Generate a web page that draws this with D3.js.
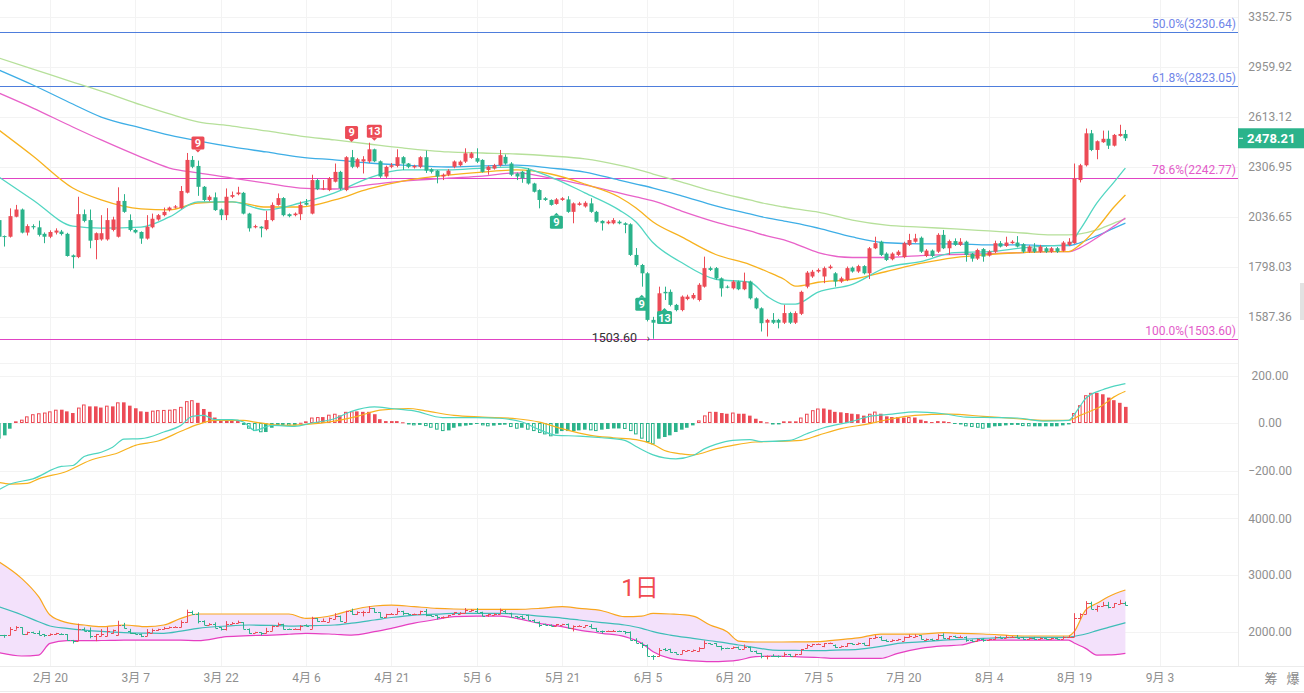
<!DOCTYPE html>
<html>
<head>
<meta charset="utf-8">
<script src="https://cdn.jsdelivr.net/npm/d3@7"></script>
<style>
html,body{margin:0;padding:0;background:#fff;overflow:hidden}
svg{display:block;font-family:Roboto,"Noto Sans CJK SC",sans-serif}
</style>
</head>
<body>
<svg id="chart" width="1304" height="693"></svg>
<script>
// first candle date, one candle per day
var startDay = "2025-02-11";

var open = [2021,1942,1939,2038,2075,1959,1991,1985,1953,1939,1959,1964,1953,1851,1843,2051,2021,1923,1926,1926,1972,1939,2120,2021,1972,1962,1930,1985,2024,2046,2072,2085,2082,2164,2348,2313,2196,2125,2139,2075,2046,2142,2156,2163,2054,1985,1988,1976,2021,2099,2135,2051,2046,2051,2110,2054,2233,2181,2178,2224,2279,2178,2364,2308,2339,2339,2411,2340,2253,2308,2313,2364,2327,2305,2308,2364,2294,2286,2253,2263,2308,2317,2338,2360,2358,2348,2290,2298,2317,2366,2327,2270,2280,2290,2214,2178,2134,2125,2104,2125,2128,2063,2099,2091,2107,2063,2017,2005,2005,2013,2005,2000,1853,1807,1770,1576,1568,1690,1690,1636,1615,1660,1663,1656,1712,1793,1793,1748,1712,1705,1734,1701,1734,1663,1622,1565,1576,1576,1565,1603,1565,1600,1712,1756,1778,1756,1793,1770,1734,1741,1795,1778,1802,1770,1884,1915,1859,1833,1853,1843,1900,1915,1934,1848,1873,1868,1948,1884,1918,1900,1915,1859,1836,1880,1850,1868,1908,1895,1908,1911,1903,1868,1884,1868,1884,1868,1884,1872,1900,1908,2233,2317,2509,2407,2454,2475,2433,2493,2505];
var high = [2030,1945,2081,2099,2080,2000,2000,2018,1960,1970,1980,1972,1958,1855,2142,2075,2075,1960,2046,2082,2038,2193,2156,2050,1978,1965,2046,2054,2052,2085,2090,2098,2200,2389,2371,2344,2200,2150,2165,2080,2187,2170,2196,2168,2058,1998,1990,2068,2112,2160,2140,2055,2060,2117,2130,2263,2240,2233,2250,2327,2285,2370,2407,2360,2370,2451,2415,2345,2315,2330,2411,2370,2330,2320,2370,2403,2300,2290,2270,2295,2345,2345,2417,2395,2417,2352,2315,2325,2407,2380,2335,2275,2285,2300,2218,2182,2140,2128,2135,2140,2145,2112,2115,2118,2134,2068,2020,2020,2031,2020,2010,2005,1885,1812,1775,1588,1712,1712,1700,1640,1675,1678,1685,1727,1845,1800,1798,1752,1718,1740,1738,1773,1738,1667,1626,1580,1603,1580,1636,1608,1610,1695,1780,1785,1792,1800,1808,1775,1755,1800,1800,1808,1806,1890,1939,1920,1865,1865,1875,1915,1953,1953,1940,1880,1878,1956,1972,1925,1931,1932,1920,1862,1882,1885,1875,1920,1918,1939,1922,1942,1908,1898,1908,1900,1890,1890,1890,1918,1932,2327,2325,2539,2530,2465,2526,2526,2505,2563,2530];
var low = [1935,1892,1935,2035,1955,1945,1975,1940,1908,1932,1950,1945,1845,1792,1838,2010,1884,1833,1920,1920,1965,1935,2058,1965,1955,1905,1925,1980,2018,2040,2065,2080,2078,2160,2300,2147,2118,2118,2068,2021,2021,2135,2150,2050,1964,1980,1936,1970,2015,2095,2040,2035,2040,2021,2095,2050,2178,2178,2172,2220,2178,2172,2300,2300,2270,2330,2335,2245,2245,2300,2305,2290,2300,2298,2300,2273,2270,2215,2233,2255,2300,2310,2330,2355,2330,2275,2263,2292,2310,2320,2255,2233,2218,2208,2165,2081,2120,2095,2100,2120,2058,2005,2095,2085,2058,2008,1969,2000,2000,2000,1956,1848,1800,1712,1570,1503.6,1560,1656,1630,1610,1610,1655,1658,1650,1708,1780,1742,1670,1705,1700,1697,1697,1658,1618,1531,1512,1560,1543,1560,1560,1560,1595,1705,1750,1772,1727,1788,1712,1728,1736,1773,1772,1765,1745,1880,1848,1825,1828,1848,1838,1895,1910,1862,1843,1843,1862,1880,1853,1895,1895,1822,1822,1830,1822,1845,1862,1888,1890,1905,1888,1862,1862,1862,1862,1862,1862,1862,1868,1895,1905,2220,2310,2400,2352,2450,2413,2428,2488,2462];
var close = [1939,1938,2041,2075,1959,1991,1985,1948,1939,1962,1969,1952,1848,1843,2051,2017,1920,1956,1956,2021,2024,2120,2063,1972,1960,1930,1988,2028,2046,2063,2085,2091,2173,2348,2308,2196,2125,2142,2072,2046,2142,2151,2165,2054,1980,1991,1980,2021,2099,2135,2046,2041,2054,2099,2100,2233,2183,2187,2242,2279,2187,2364,2308,2352,2352,2411,2340,2253,2308,2317,2364,2327,2308,2313,2364,2286,2280,2253,2263,2286,2339,2338,2387,2387,2338,2279,2309,2317,2376,2327,2263,2253,2243,2214,2169,2125,2125,2099,2128,2134,2063,2107,2107,2110,2063,2013,2005,2013,2021,2005,1997,1853,1807,1770,1576,1565,1684,1684,1636,1615,1670,1670,1677,1720,1793,1785,1748,1705,1709,1734,1701,1734,1663,1622,1563,1576,1565,1565,1603,1565,1603,1690,1773,1777,1785,1793,1800,1734,1748,1793,1778,1802,1770,1884,1908,1853,1830,1859,1868,1908,1923,1931,1868,1873,1848,1948,1884,1918,1900,1915,1853,1836,1876,1845,1868,1908,1892,1911,1915,1892,1868,1892,1868,1892,1868,1884,1868,1911,1915,2242,2317,2509,2407,2460,2475,2433,2499,2505,2478.21];

// moving averages, read at sample days (days after startDay)
var maDay = [0,6,13,18,25,30,35,41,47,53,59,65,71,79,85,91,97,103,109,112,115,120,126,132,135,138,140,144,150,156,162,168,174,180,185,188,190,193,196,198];
var maCyan = [2250,2125,1991,1981,1986,2037,2115,2115,2073,2109,2163,2244,2290,2290,2301,2307,2250,2163,2073,2011,1910,1818,1744,1731,1672,1639,1639,1689,1722,1796,1822,1864,1868,1886,1896,1900,1972,2109,2222,2301];
var maOrange = [2530,2371,2189,2125,2078,2073,2109,2115,2088,2088,2125,2184,2227,2261,2278,2290,2267,2211,2141,2083,2011,1938,1855,1809,1778,1744,1714,1731,1744,1778,1814,1841,1855,1864,1868,1868,1900,1981,2088,2152];
var maPink = [2774,2672,2549,2468,2365,2301,2273,2244,2216,2189,2184,2206,2227,2244,2255,2273,2244,2206,2163,2141,2120,2067,2011,1967,1943,1924,1905,1864,1841,1841,1850,1855,1859,1864,1868,1868,1886,1934,1991,2032];
var maBlue = [2938,2830,2699,2613,2543,2498,2462,2425,2395,2365,2348,2330,2318,2307,2313,2318,2301,2278,2233,2211,2189,2147,2094,2052,2032,2016,2006,1981,1938,1910,1905,1905,1900,1900,1896,1896,1910,1943,1981,2006];
var maGreen = [3027,2945,2851,2788,2693,2633,2581,2555,2524,2492,2468,2443,2419,2395,2389,2383,2371,2354,2318,2295,2267,2222,2168,2125,2104,2088,2078,2062,2021,1996,1986,1977,1967,1957,1948,1948,1953,1972,2006,2027];

// MACD
var macdHist = [-66,-52,-24,7,14,28,37,41,44,49,56,56,49,42,65,78,70,70,65,73,70,87,87,73,62,49,47,52,54,55,56,58,68,92,96,85,59,47,23,11,11,11,8,-8,-24,-34,-39,-38,-20,-8,-8,-11,-10,1,7,23,25,25,35,39,32,47,49,49,47,47,37,16,8,8,8,3,-6,-10,-8,-13,-20,-28,-34,-31,-20,-14,-11,-8,-3,-10,-14,-11,-8,-7,-17,-24,-20,-28,-34,-42,-48,-56,-45,-34,-34,-34,-31,-28,-31,-34,-28,-25,-23,-23,-25,-34,-48,-66,-80,-90,-66,-59,-52,-38,-28,-20,-10,11,32,47,47,42,39,44,39,39,31,18,8,3,-6,-6,7,7,7,23,39,54,61,61,56,47,45,42,39,37,31,39,48,39,28,25,25,23,25,23,14,8,4,8,7,4,-3,-6,-14,-17,-20,-24,-20,-14,-13,-10,-8,-8,-13,-14,-14,-14,-14,-14,-14,-10,-6,42,75,117,127,127,121,107,96,85,68];
var difDay = [0,2,6,11,13,15,18,20,22,25,29,32,34,36,38,41,43,45,48,52,55,59,62,66,69,73,78,84,88,92,95,98,102,106,110,112,115,117,119,122,124,126,129,132,134,139,142,145,150,153,157,161,166,170,175,179,184,188,189,190,191,194,196,198];
var difVal = [-281,-257,-235,-183,-179,-141,-123,-102,-68,-66,-38,-10,28,32,14,14,4,-31,-10,-14,0,18,49,68,61,51,23,23,20,4,-28,-52,-55,-62,-73,-99,-134,-147,-151,-137,-109,-90,-73,-70,-78,-73,-45,-20,7,28,37,47,39,25,23,21,8,11,35,70,103,140,155,166];
var deaDay = [0,2,5,7,12,16,21,24,28,32,35,38,43,45,50,54,59,63,67,72,75,80,85,91,95,99,104,108,112,115,117,120,122,126,129,133,136,141,144,148,153,157,161,167,173,179,184,188,190,194,196,198];
var deaVal = [-250,-257,-254,-235,-203,-158,-125,-94,-76,-35,-6,11,11,4,-10,-6,8,28,54,61,51,32,25,18,4,-24,-52,-62,-70,-90,-116,-130,-134,-109,-94,-80,-78,-73,-52,-24,-3,18,32,37,28,18,11,11,32,75,110,134];

// band in lower pane
var bandDay = [0,4,7,9,12,15,18,22,26,29,32,35,40,44,48,51,54,59,62,66,69,73,77,80,84,88,91,95,99,102,106,110,113,115,118,122,125,128,130,133,136,140,144,147,151,155,158,162,166,169,173,180,188,189,191,193,195,198];
var bandUp = [3235,2941,2617,2294,2159,2118,2088,2118,2088,2118,2235,2312,2312,2312,2312,2312,2235,2294,2382,2453,2470,2441,2412,2400,2394,2394,2394,2410,2441,2412,2370,2265,2276,2323,2312,2276,2118,2000,1835,1818,1818,1820,1824,1853,1890,1959,1959,1959,1982,1970,1959,1924,1924,2000,2382,2500,2617,2735];
var bandMid = [2441,2300,2176,2100,2060,2029,2005,1982,1975,1971,2010,2060,2100,2118,2110,2100,2105,2118,2150,2206,2250,2294,2310,2323,2323,2323,2312,2276,2240,2206,2160,2118,2060,2000,1940,1882,1840,1800,1765,1720,1676,1670,1665,1675,1688,1740,1794,1820,1853,1865,1882,1900,1900,1920,1959,2020,2076,2159];
var bandLow = [1630,1571,1588,1794,1841,1841,1845,1853,1853,1853,1850,1841,1912,1930,1941,1955,1971,1955,1941,2000,2059,2150,2220,2265,2276,2276,2235,2147,2088,2029,1971,1912,1794,1647,1529,1485,1471,1480,1500,1560,1570,1559,1545,1529,1529,1529,1618,1706,1750,1765,1853,1853,1853,1800,1706,1588,1590,1618];

// fibonacci levels
var fibPct = ["50.0%","61.8%","78.6%","100.0%"];
var fibVal = [3230.64,2823.05,2242.77,1503.60];

// sequence markers
var tdDay = [35,62,66,98,113,117];
var tdText = ["9","9","13","9","9","13"];
var tdSide = ["top","top","top","bottom","bottom","bottom"];

// axis ticks
var priceTicks = [3352.75,2959.92,2613.12,2306.95,2036.65,1798.03,1587.36];
var macdTicks = [200,0,-200];
var lowTicks = [4000,3000,2000];
var tickDays = ["2025-02-20","2025-03-07","2025-03-22","2025-04-06","2025-04-21","2025-05-06","2025-05-21","2025-06-05","2025-06-20","2025-07-05","2025-07-20","2025-08-04","2025-08-19","2025-09-03"];
var tickNames = ["2月 20","3月 7","3月 22","4月 6","4月 21","5月 6","5月 21","6月 5","6月 20","7月 5","7月 20","8月 4","8月 19","9月 3"];

var RED = "#ec4b56", GREEN = "#2bb38b";
var plotR = 1238;
var svg = d3.select("#chart");
var parse = d3.timeParse("%Y-%m-%d");
var day0 = parse(startDay);
var dayDate = n => d3.timeDay.offset(day0, n);

var x = d3.scaleTime()
  .domain([parse("2025-02-20"), parse("2025-08-19")])
  .range([50, 1074.2]);
var yTop = d3.scaleLog().domain([1587.36, 3352.75]).range([317, 17]);
var yMacd = d3.scaleLinear().domain([-200, 200]).range([470.5, 375.5]);
var yLow = d3.scaleLinear().domain([2000, 4000]).range([631.7, 518.3]);

// clip areas
var defs = svg.append("defs");
[["cTop",0,350],["cMacd",352,494],["cLow",494,666]].forEach(function(c){
  defs.append("clipPath").attr("id", c[0]).append("rect")
    .attr("x", 0).attr("y", c[1]).attr("width", plotR).attr("height", c[2] - c[1]);
});

// grid
var grid = svg.append("g").attr("stroke", "#f3f3f3").attr("stroke-width", 1);
tickDays.forEach(function(d){
  var gx = Math.round(x(parse(d))) + 0.5;
  grid.append("line").attr("x1", gx).attr("x2", gx).attr("y1", 0).attr("y2", 666);
});
var hy = priceTicks.map(yTop).concat(macdTicks.map(yMacd), lowTicks.map(yLow), [363, 494]);
hy.forEach(function(v){
  var gy = Math.round(v) + 0.5;
  grid.append("line").attr("x1", 0).attr("x2", plotR).attr("y1", gy).attr("y2", gy);
});
svg.append("line").attr("x1", plotR + 0.5).attr("x2", plotR + 0.5).attr("y1", 0).attr("y2", 666)
  .attr("stroke", "#ececec");
svg.append("line").attr("x1", 0).attr("x2", 1304).attr("y1", 666.5).attr("y2", 666.5)
  .attr("stroke", "#ececec");
svg.append("line").attr("x1", 0).attr("x2", 1304).attr("y1", 691.5).attr("y2", 691.5)
  .attr("stroke", "#ececec");

// ---------- price pane ----------
var tp = svg.append("g").attr("clip-path", "url(#cTop)");

var fibCol = ["#4e7ddc","#4e7ddc","#e043c4","#e043c4"];
var fibTxt = ["#6f85e8","#6f85e8","#e35cc9","#e35cc9"];
fibVal.forEach(function(v, i){
  var fy = Math.round(yTop(v)) + 0.5;
  tp.append("line").attr("x1", 0).attr("x2", plotR).attr("y1", fy).attr("y2", fy)
    .attr("stroke", fibCol[i]).attr("stroke-width", 1);
  tp.append("text").attr("x", plotR - 2).attr("y", fy - 5).attr("text-anchor", "end")
    .attr("font-size", 12).attr("fill", fibTxt[i])
    .text(fibPct[i] + "(" + v.toFixed(2) + ")");
});

var maLine = d3.line().curve(d3.curveMonotoneX);
[[maGreen,"#b6e09a"],[maBlue,"#3eaee6"],[maPink,"#e862c9"],[maOrange,"#f7b21f"],[maCyan,"#52d6c2"]].forEach(function(m){
  var pts = maDay.map((d, i) => [x(dayDate(d)), yTop(m[0][i])]);
  tp.append("path").attr("d", maLine(pts)).attr("fill", "none")
    .attr("stroke", m[1]).attr("stroke-width", 1.3);
});

var cw = 4;
open.forEach(function(o, i){
  var c = close[i], col = c >= o ? RED : GREEN;
  var cx = x(dayDate(i));
  var wx = Math.round(cx) + 0.5;
  tp.append("line").attr("x1", wx).attr("x2", wx)
    .attr("y1", yTop(high[i])).attr("y2", yTop(low[i]))
    .attr("stroke", col).attr("stroke-width", 1);
  var y1 = yTop(Math.max(o, c)), y2 = yTop(Math.min(o, c));
  tp.append("rect").attr("x", wx - cw / 2).attr("y", y1)
    .attr("width", cw).attr("height", Math.max(1, y2 - y1)).attr("fill", col);
});

// lowest price note
var lowIdx = d3.minIndex(low);
var lx = x(dayDate(lowIdx)), lyy = yTop(low[lowIdx]);
tp.append("text").attr("x", lx - 16).attr("y", lyy + 3)
  .attr("text-anchor", "end").attr("font-size", 12.5).attr("fill", "#333")
  .text(low[lowIdx].toFixed(2));
tp.append("text").attr("x", lx - 5).attr("y", lyy + 3)
  .attr("text-anchor", "middle").attr("font-size", 10).attr("fill", "#333").text("›");

// sequence markers
tdDay.forEach(function(d, i){
  var mx = x(dayDate(d));
  var isTop = tdSide[i] == "top";
  var col = isTop ? RED : GREEN;
  var w = tdText[i].length > 1 ? 15 : 13, h = 13;
  var g = tp.append("g");
  var by;
  if (isTop) {
    by = yTop(high[d]) - 8 - h - 3;
    g.append("path").attr("d", "M" + (mx - 3) + "," + (by + h) + "L" + mx + "," + (by + h + 3) + "L" + (mx + 3) + "," + (by + h) + "Z").attr("fill", col);
  } else {
    by = yTop(low[d]) + 8 + 3;
    g.append("path").attr("d", "M" + (mx - 3) + "," + by + "L" + mx + "," + (by - 3) + "L" + (mx + 3) + "," + by + "Z").attr("fill", col);
  }
  g.append("rect").attr("x", mx - w / 2).attr("y", by).attr("width", w).attr("height", h)
    .attr("rx", 1.5).attr("fill", col);
  g.append("text").attr("x", mx).attr("y", by + h / 2 + 4).attr("text-anchor", "middle")
    .attr("font-size", 11).attr("font-weight", "bold").attr("fill", "#fff").text(tdText[i]);
});

// ---------- MACD pane ----------
var mp = svg.append("g").attr("clip-path", "url(#cMacd)");
var bw = 3.6;
macdHist.forEach(function(v, i){
  var prev = i > 0 ? macdHist[i - 1] : v;
  var hollow = Math.abs(v) > Math.abs(prev);
  var col = v >= 0 ? RED : GREEN;
  var bx = Math.round(x(dayDate(i)) - bw / 2);
  var y0 = yMacd(0), y1 = yMacd(v);
  var t = Math.min(y0, y1), hh = Math.max(1, Math.abs(y1 - y0));
  if (hollow) {
    mp.append("rect").attr("x", bx + 0.5).attr("y", t + 0.5).attr("width", bw - 1).attr("height", Math.max(0.5, hh - 1))
      .attr("fill", "#fff").attr("stroke", col).attr("stroke-width", 1);
  } else {
    mp.append("rect").attr("x", bx).attr("y", t).attr("width", bw).attr("height", hh).attr("fill", col);
  }
});
var lineM = d3.line().curve(d3.curveMonotoneX);
mp.append("path").attr("d", lineM(deaDay.map((d, i) => [x(dayDate(d)), yMacd(deaVal[i])])))
  .attr("fill", "none").attr("stroke", "#f7b21f").attr("stroke-width", 1.2);
mp.append("path").attr("d", lineM(difDay.map((d, i) => [x(dayDate(d)), yMacd(difVal[i])])))
  .attr("fill", "none").attr("stroke", "#4fd5c0").attr("stroke-width", 1.2);

// ---------- lower pane ----------
var lp = svg.append("g").attr("clip-path", "url(#cLow)");
var bandPts = bandDay.map((d, i) => ({x: x(dayDate(d)), u: yLow(bandUp[i]), m: yLow(bandMid[i]), l: yLow(bandLow[i])}));
lp.append("path").attr("d", d3.area().curve(d3.curveMonotoneX).x(p => p.x).y0(p => p.l).y1(p => p.u)(bandPts))
  .attr("fill", "#f3e1fb");
var bl = d3.line().curve(d3.curveMonotoneX).x(p => p[0]).y(p => p[1]);
lp.append("path").attr("d", bl(bandPts.map(p => [p.x, p.u]))).attr("fill", "none").attr("stroke", "#f9a61e").attr("stroke-width", 1.2);
lp.append("path").attr("d", bl(bandPts.map(p => [p.x, p.l]))).attr("fill", "none").attr("stroke", "#e63fc1").attr("stroke-width", 1.2);
lp.append("path").attr("d", bl(bandPts.map(p => [p.x, p.m]))).attr("fill", "none").attr("stroke", "#3dbdb7").attr("stroke-width", 1.2);
open.forEach(function(o, i){
  var c = close[i], col = c >= o ? RED : GREEN;
  var bx = Math.round(x(dayDate(i))) + 0.5;
  lp.append("line").attr("x1", bx).attr("x2", bx).attr("y1", yLow(high[i])).attr("y2", yLow(low[i])).attr("stroke", col);
  lp.append("line").attr("x1", bx - 2.5).attr("x2", bx).attr("y1", Math.round(yLow(o)) + 0.5).attr("y2", Math.round(yLow(o)) + 0.5).attr("stroke", col);
  lp.append("line").attr("x1", bx).attr("x2", bx + 2.5).attr("y1", Math.round(yLow(c)) + 0.5).attr("y2", Math.round(yLow(c)) + 0.5).attr("stroke", col);
});
svg.append("text").attr("x", 640).attr("y", 596).attr("text-anchor", "middle")
  .attr("font-size", 24).attr("fill", "#f04a50").text("1日");

// ---------- axes ----------
function rightAxis(scale, ticks){
  var g = svg.append("g").attr("transform", "translate(1270,0)")
    .call(d3.axisRight(scale).tickValues(ticks).tickSize(0).tickFormat(d3.format(".2f")));
  g.select(".domain").remove();
  g.selectAll("text").attr("x", 0).attr("text-anchor", "middle")
    .attr("font-size", 12).attr("fill", "#8f8f8f").attr("font-family", "Roboto");
}
rightAxis(yTop, priceTicks);
rightAxis(yMacd, macdTicks);
rightAxis(yLow, lowTicks);

var xa = svg.append("g").attr("transform", "translate(0,669)")
  .call(d3.axisBottom(x).tickValues(tickDays.map(d => parse(d))).tickSize(0)
    .tickFormat((d, i) => tickNames[i]));
xa.select(".domain").remove();
xa.selectAll("text").attr("font-size", 12).attr("fill", "#8f8f8f").attr("dy", "0.85em")
  .attr("font-family", "Roboto, 'Noto Sans CJK SC'");

// last price tag
var last = close[close.length - 1];
var ly = yTop(last);
svg.append("rect").attr("x", plotR).attr("y", ly - 10).attr("width", 66).attr("height", 20).attr("fill", GREEN);
svg.append("line").attr("x1", plotR + 1).attr("x2", plotR + 5).attr("y1", ly).attr("y2", ly).attr("stroke", "#fff");
svg.append("text").attr("x", plotR + 9).attr("y", ly + 4.5).attr("font-size", 13).attr("font-weight", "bold")
  .attr("fill", "#fff").text(last.toFixed(2));

// scroll handle and corner buttons
svg.append("rect").attr("x", 1300).attr("y", 283).attr("width", 4).attr("height", 37).attr("fill", "#e2e2e2");
svg.append("text").attr("x", 1271).attr("y", 683).attr("text-anchor", "middle").attr("font-size", 13).attr("fill", "#8a8a8a").text("筹");
svg.append("text").attr("x", 1293).attr("y", 683).attr("text-anchor", "middle").attr("font-size", 13).attr("fill", "#8a8a8a").text("爆");
</script>
</body>
</html>
